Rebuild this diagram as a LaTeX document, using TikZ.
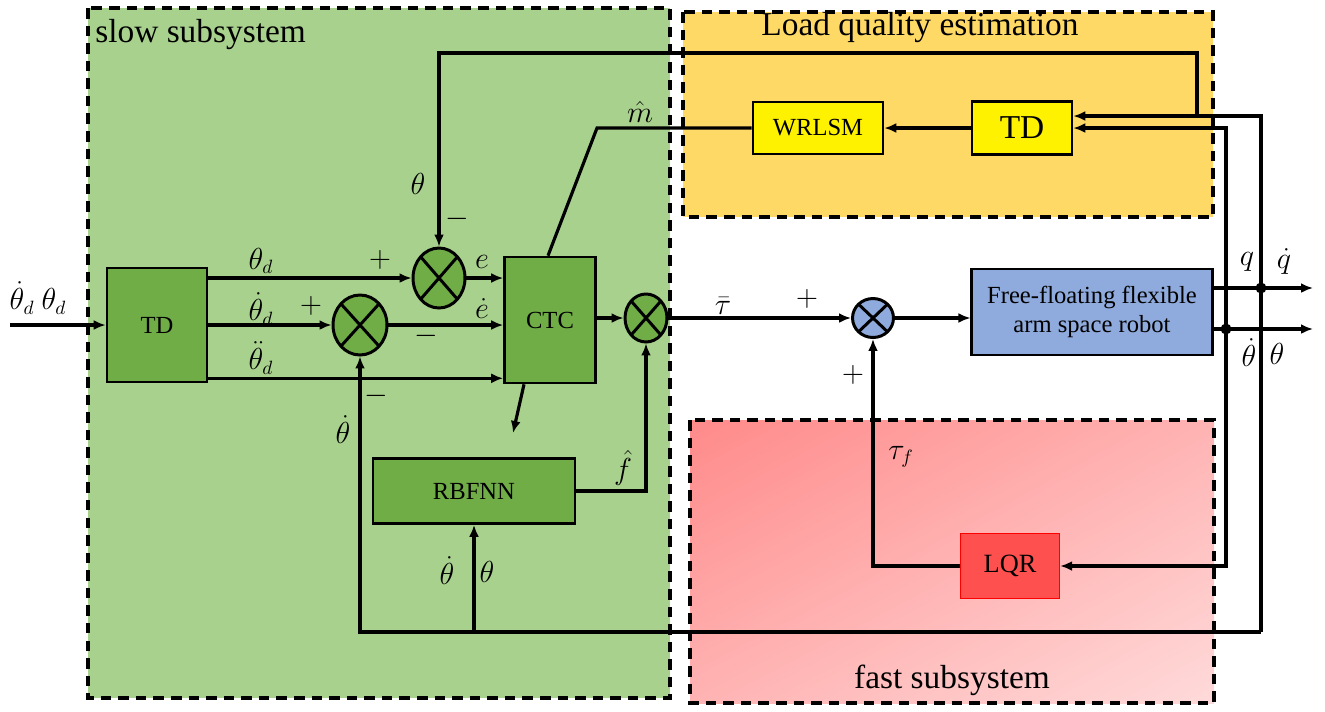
\documentclass[tikz,border=0pt]{standalone}
\usepackage{fontspec}
\setmainfont{Liberation Serif}
\usetikzlibrary{shapes.geometric,arrows.meta,shadings}

\definecolor{slowgreen}{HTML}{A9D18E}
\definecolor{blockgreen}{HTML}{70AD47}
\definecolor{loadgold}{HTML}{FFD966}
\definecolor{robotblue}{HTML}{8FAADC}
\definecolor{fastdark}{HTML}{FF8A8A}
\definecolor{fastmid}{HTML}{FFB3B3}
\definecolor{fastlight}{HTML}{FFDADA}
\definecolor{lqrred}{HTML}{FF5050}

\tikzset{
  region/.style={line width=1.8pt, dash pattern=on 6pt off 4pt},
  block/.style={draw, line width=1.5pt, fill=blockgreen, font=\fontsize{14}{16}\selectfont},
  sumj/.style={ellipse, draw, line width=1.7pt, fill=blockgreen, inner sep=0pt,
    path picture={\draw[line width=1.7pt]
      (path picture bounding box.north west) -- (path picture bounding box.south east)
      (path picture bounding box.north east) -- (path picture bounding box.south west);}},
  sig/.style={line width=1.8pt},
  lbl/.style={font=\fontsize{16}{18}\selectfont, inner sep=0pt},
  sgn/.style={font=\fontsize{16}{18}\selectfont, inner sep=0pt},
  title/.style={font=\fontsize{19}{22}\selectfont, inner sep=0pt},
}

\begin{document}
\begin{tikzpicture}[x=0.02cm, y=-0.02cm, >={Latex[length=2.4mm,width=2mm]}]
  \useasboundingbox (0,0) rectangle (1325,711);

  % subsystem regions
  \draw[region, fill=slowgreen] (88,8) rectangle (670,698);
  \draw[region, fill=loadgold] (683,12) rectangle (1213,217);
  \shade[upper left=fastdark, lower right=fastlight, upper right=fastmid, lower left=fastmid]
    (690,420) rectangle (1214,703);
  \draw[region] (690,420) rectangle (1214,703);

  \node[title, anchor=west] (tslow) at (95,35) {slow subsystem};
  \node[title] (tload) at (920,28) {Load quality estimation};
  \node[title] (tfast) at (952,680) {fast subsystem};

  % blocks
  \node[block, minimum width=20mm, minimum height=22.8mm] (td) at (157,325) {TD};
  \node[block, minimum width=18.2mm, minimum height=25.2mm] (ctc) at (550,320) {CTC};
  \node[block, minimum width=40.4mm, minimum height=13mm] (rbf) at (474,491) {RBFNN};
  \node[block, fill=yellow, minimum width=26mm, minimum height=10.4mm] (wrlsm) at (818,128) {WRLSM};
  \node[block, fill=yellow, minimum width=20mm, minimum height=10.6mm,
    font=\fontsize{19}{22}\selectfont] (tdl) at (1022,128) {TD};
  \node[block, fill=robotblue, line width=1.2pt, align=center, minimum width=48.2mm,
    minimum height=17.2mm] (robot) at (1092,312) {Free-floating flexible\\arm space robot};
  \node[block, fill=lqrred, draw=red, line width=0.8pt, minimum width=19.8mm,
    minimum height=13mm, font=\fontsize{15}{17}\selectfont] (lqr) at (1010,566) {LQR};

  % summing junctions
  \node[sumj, minimum width=10.4mm, minimum height=12mm] (sumA) at (439,278) {};
  \node[sumj, minimum width=10.8mm, minimum height=12mm] (sumB) at (360,325) {};
  \node[sumj, minimum width=8.4mm, minimum height=9.6mm] (sumC) at (646,318) {};
  \node[sumj, fill=robotblue, minimum width=8.2mm, minimum height=7.8mm] (sumD) at (873,318) {};

  % helper points
  \coordinate (in) at (10,325);
  \coordinate (qout) at (1313,288);
  \coordinate (thout) at (1313,329);
  \coordinate (jq) at (1261,288);
  \coordinate (jt) at (1226,329);
  \coordinate (fb) at (1261,632);
  \coordinate (ta) at (1197,116);
  \coordinate (tc) at (1197,53);
  \coordinate (mk) at (597,128);
  \coordinate (ctcout) at (513,433);

  % forward path
  \draw[sig,->] (in) -- (td.west);
  \draw[sig,->] (td.east |- sumA) -- (sumA.west);
  \draw[sig,->] (td.east) -- (sumB.west);
  \draw[sig,->] ([yshift=1mm]td.south east) coordinate (dd) -- (dd -| ctc.west);
  \draw[sig,->] (sumA.east) -- (sumA.east -| ctc.west);
  \draw[sig,->] (sumB.east) -- (sumB.east -| ctc.west);
  \draw[sig,->] (ctc.east |- sumC) -- (sumC.west);
  \draw[sig,->] (sumC.east) -- (sumD.west);
  \draw[sig,->] (sumD.east) -- (sumD.east -| robot.west);
  \draw[sig,->] ([xshift=-5.2mm]ctc.south) -- (ctcout);
  \draw[sig,->] (rbf.east) -| (sumC.south);
  \draw[sig,->] (lqr.west) -| (sumD.south);

  % robot outputs and feedback
  \draw[sig,->] (qout -| robot.east) -- (qout);
  \draw[sig,->] (thout -| robot.east) -- (thout);
  \fill (jq) circle (1.1mm);
  \fill (jt) circle (1.1mm);
  \draw[sig,->] (fb) |- ([yshift=2.4mm]tdl.east);
  \draw[sig,->] (jt) |- (tdl.east);
  \draw[sig,->] (jt) |- (lqr.east);
  \draw[sig,->] (fb) -| (sumB.south);
  \draw[sig,->] (fb -| rbf) -- (rbf.south);
  \draw[sig,->] (ta) -- (tc) -| (sumA.north);
  \draw[sig,->] (tdl.west) -- (wrlsm.east);
  \draw[sig] (wrlsm.west) -- (mk) -- ([xshift=-0.4mm]ctc.north);

  % labels
  \node[lbl] (lin) at (38,298) {$\dot\theta_d\ \theta_d$};
  \node[lbl] (lthd) at (261,261) {$\theta_d$};
  \node[lbl] (ldthd) at (261,309) {$\dot\theta_d$};
  \node[lbl] (lddthd) at (261,358) {$\ddot\theta_d$};
  \node[sgn] (pB) at (311,306) {$+$};
  \node[sgn] (pA) at (380,260) {$+$};
  \node[sgn] (mA) at (457,219) {$-$};
  \node[lbl] (lthA) at (418,184) {$\theta$};
  \node[lbl] (le) at (482,262) {$e$};
  \node[lbl] (lde) at (482,309) {$\dot e$};
  \node[sgn] (mB) at (426,336) {$-$};
  \node[sgn] (mB2) at (376,396) {$-$};
  \node[lbl] (ldthB) at (343,430) {$\dot\theta$};
  \node[lbl] (lm) at (640,112) {$\hat m$};
  \node[lbl, font=\fontsize{18}{20}\selectfont] (lf) at (623,468) {$\hat f$};
  \node[lbl] (ldthR) at (447,571) {$\dot\theta$};
  \node[lbl] (lthR) at (487,572) {$\theta$};
  \node[lbl] (ltau) at (723,306) {$\bar\tau$};
  \node[sgn] (pD) at (807,299) {$+$};
  \node[sgn] (pD2) at (853,375) {$+$};
  \node[lbl] (ltauf) at (901,457) {$\tau_f$};
  \node[lbl] (lq) at (1247,262) {$q$};
  \node[lbl] (ldq) at (1284,261) {$\dot q$};
  \node[lbl] (ldthO) at (1249,353) {$\dot\theta$};
  \node[lbl] (lthO) at (1277,354) {$\theta$};
\end{tikzpicture}
\end{document}
